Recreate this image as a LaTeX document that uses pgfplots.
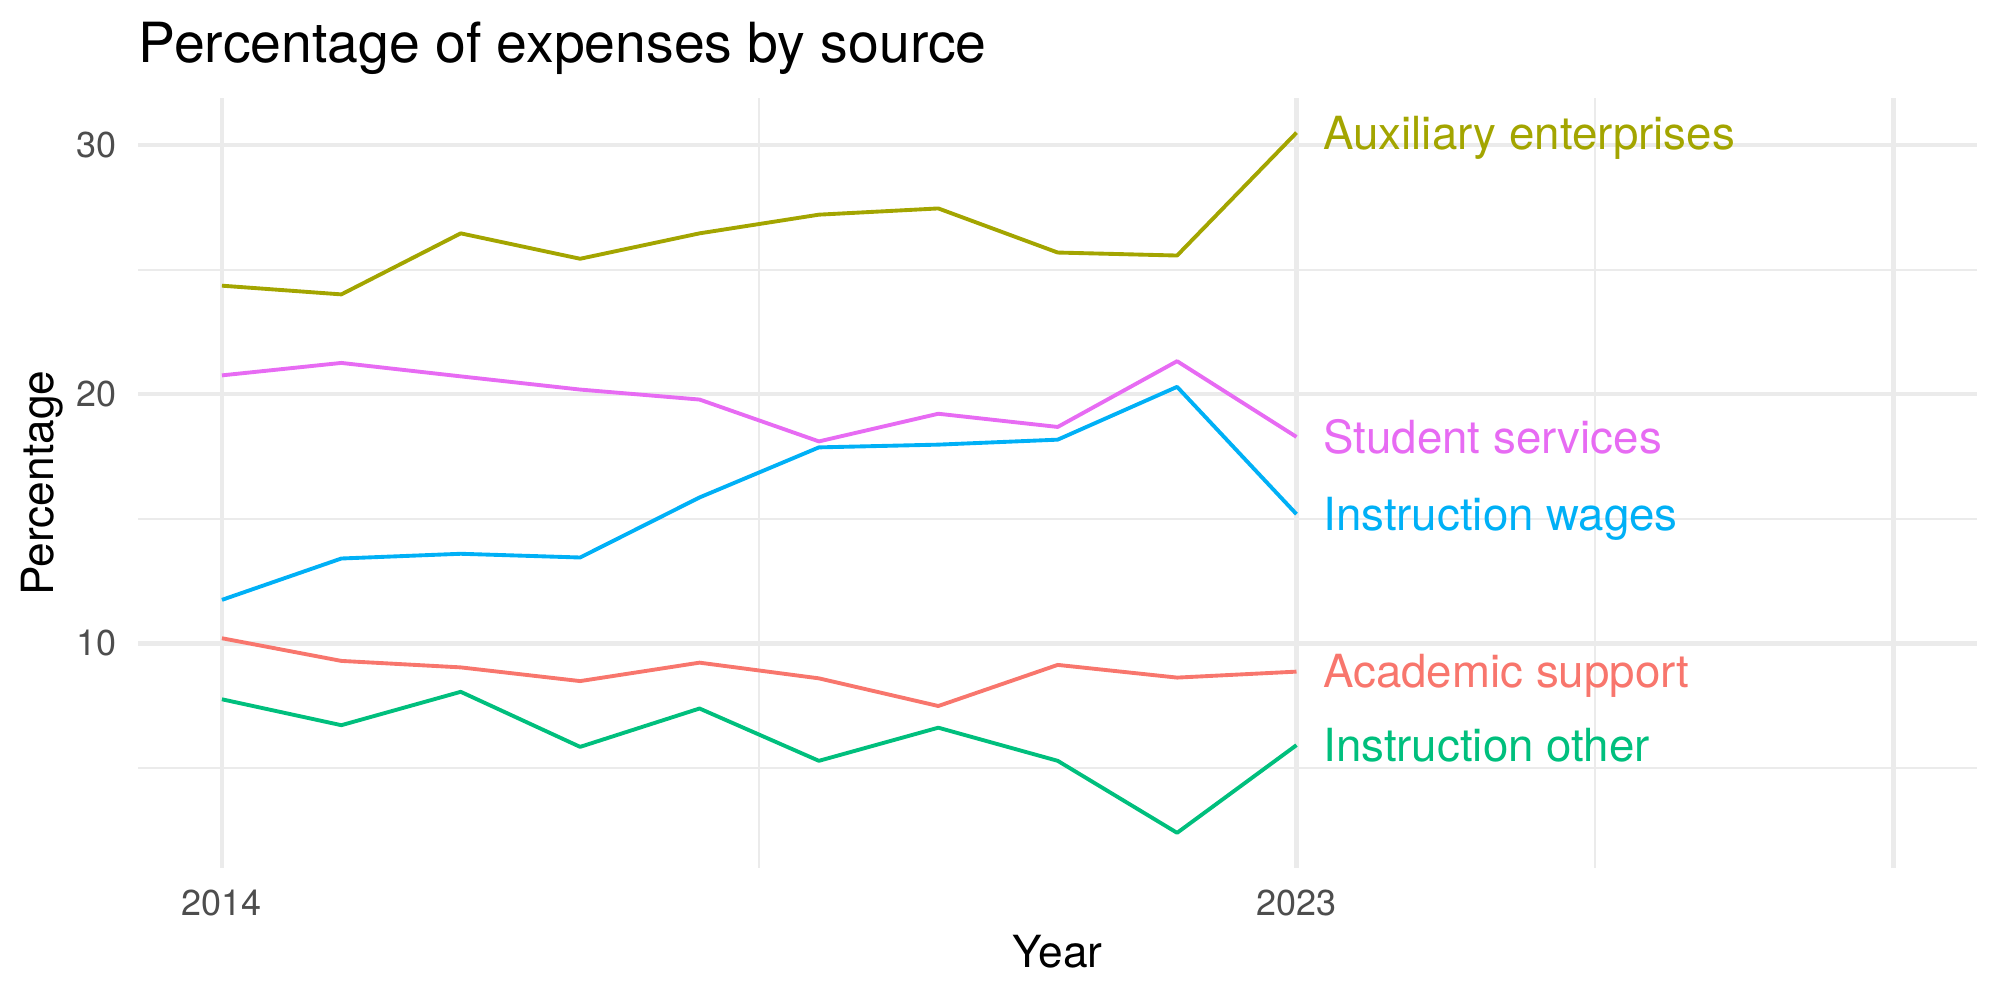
\documentclass[border=0pt]{standalone}
\usepackage{fontspec}
\setmainfont{TeX Gyre Heros}
\usepackage{pgfplots}
\pgfplotsset{compat=1.18}

\definecolor{gridgrey}{HTML}{EBEBEB}
\definecolor{ticktext}{HTML}{4D4D4D}
\definecolor{cAcad}{HTML}{F8766D}
\definecolor{cAux}{HTML}{A3A500}
\definecolor{cOther}{HTML}{00BF7D}
\definecolor{cWages}{HTML}{00B0F6}
\definecolor{cStudent}{HTML}{E76BF3}

% label written just right of a series' last point
\tikzset{endlabel/.style={pos=1, anchor=base west, inner sep=0pt, xshift=9pt, yshift=-5.9pt,
    font=\fontsize{16.5}{19}\selectfont}}

\begin{document}
\begin{tikzpicture}[x=1pt,y=1pt]
\useasboundingbox (0,0) rectangle (722.7,361.35);
\begin{axis}[
  at={(50.0pt,47.8pt)}, anchor=south west,
  scale only axis, width=664.4pt, height=278.2pt,
  xmin=2013.3, xmax=2028.7, ymin=1.0, ymax=31.9,
  xtick={2014,2023,2028}, xticklabels={2014,2023,{}},
  minor xtick={2018.5,2025.5},
  ytick={10,20,30}, yticklabels={10,20,30},
  minor ytick={5,15,25},
  grid=both,
  major grid style={draw=gridgrey, line width=1.55pt},
  minor grid style={draw=gridgrey, line width=0.78pt},
  axis line style={draw=none},
  major tick length=0pt, minor tick length=0pt,
  /pgf/number format/assume math mode=true,
  tick label style={font=\fontsize{13}{15}\selectfont, text=ticktext, inner sep=0pt},
  xticklabel style={anchor=north, yshift=-7.8pt},
  yticklabel style={anchor=east, xshift=-7.7pt},
  clip=false,
  every axis plot/.append style={line width=1.4pt, line join=round},
]
% Academic support
\addplot[color=cAcad] coordinates {
  (2014,10.21) (2015,9.30) (2016,9.04) (2017,8.49) (2018,9.23)
  (2019,8.60) (2020,7.49) (2021,9.14) (2022,8.63) (2023,8.87)
} node[endlabel, text=cAcad] {Academic support};
% Auxiliary enterprises
\addplot[color=cAux] coordinates {
  (2014,24.36) (2015,24.01) (2016,26.46) (2017,25.44) (2018,26.46)
  (2019,27.21) (2020,27.46) (2021,25.69) (2022,25.57) (2023,30.50)
} node[endlabel, text=cAux] {Auxiliary enterprises};
% Instruction other
\addplot[color=cOther] coordinates {
  (2014,7.76) (2015,6.72) (2016,8.06) (2017,5.85) (2018,7.39)
  (2019,5.29) (2020,6.62) (2021,5.29) (2022,2.40) (2023,5.92)
} node[endlabel, text=cOther] {Instruction other};
% Instruction wages
\addplot[color=cWages] coordinates {
  (2014,11.75) (2015,13.41) (2016,13.60) (2017,13.45) (2018,15.86)
  (2019,17.87) (2020,17.98) (2021,18.18) (2022,20.30) (2023,15.19)
} node[endlabel, text=cWages] {Instruction wages};
% Student services
\addplot[color=cStudent] coordinates {
  (2014,20.76) (2015,21.26) (2016,20.72) (2017,20.19) (2018,19.79)
  (2019,18.11) (2020,19.22) (2021,18.69) (2022,21.33) (2023,18.29)
} node[endlabel, text=cStudent] {Student services};
\end{axis}
% titles
\node[anchor=base west, inner sep=0pt, font=\fontsize{20}{24}\selectfont] at (50.0,338.7) {Percentage of expenses by source};
\node[anchor=base, inner sep=0pt, font=\fontsize{16}{19}\selectfont] at (382.2,11.6) {Year};
\node[anchor=base, rotate=90, inner sep=0pt, font=\fontsize{16}{19}\selectfont] at (19.3,186.8) {Percentage};
\end{tikzpicture}
\end{document}
